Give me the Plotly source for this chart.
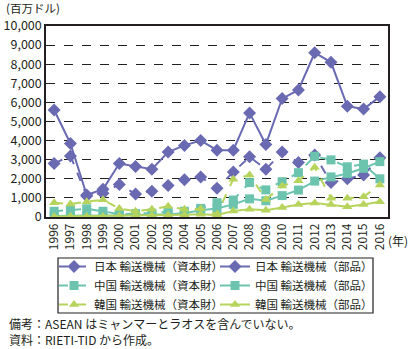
import plotly.graph_objects as go

years = list(range(1996, 2017))
year_labels = [str(y) for y in years]

japan_capital = [2800, 3200, 1100, 1250, 1700, 1200, 1350, 1650, 1950, 2100, 1500,
                 2350, 3150, 2500, 3400, 2850, 3250, 1800, 2000, 2200, 3100]
japan_parts = [5600, 3850, 1150, 1450, 2800, 2650, 2500, 3400, 3750, 4000, 3500,
               3500, 5450, 3800, 6200, 6650, 8600, 8100, 5800, 5650, 6300]
china_capital = [300, 370, 430, 300, 150, 180, 200, 280, 300, 450, 750,
                 890, 1800, 1420, 1850, 2320, 3180, 2990, 2630, 2770, 2000]
china_parts = [50, 80, 80, 60, 80, 100, 120, 150, 200, 350, 450,
               660, 950, 850, 1120, 1410, 1880, 2100, 2280, 2550, 2900]
korea_capital = [740, 680, 800, 900, 450, 300, 400, 560, 400, 430, 150,
                 1980, 2200, 920, 1620, 1900, 2600, 980, 980, 1060, 1680]
korea_parts = [30, 40, 30, 30, 50, 60, 80, 100, 120, 150, 100,
               310, 400, 350, 500, 650, 730, 650, 540, 650, 800]

series_names = [
    "日本 輸送機械（資本財）", "日本 輸送機械（部品）",
    "中国 輸送機械（資本財）", "中国 輸送機械（部品）",
    "韓国 輸送機械（資本財）", "韓国 輸送機械（部品）",
]
y_ticks = list(range(0, 10001, 1000))

FONT = "Noto Sans CJK JP"
C_JP = "#6a6ab3"
C_CN = "#6cc4ae"
C_KR = "#b6d45c"
INK = "#231f20"

specs = [
    (japan_capital, C_JP, "dash", "diamond", 10, "legend"),
    (japan_parts, C_JP, "solid", "diamond", 10, "legend2"),
    (china_capital, C_CN, "dash", "square", 9, "legend"),
    (china_parts, C_CN, "solid", "square", 9, "legend2"),
    (korea_capital, C_KR, "dash", "triangle-up", 9, "legend"),
    (korea_parts, C_KR, "solid", "triangle-up", 9, "legend2"),
]

fig = go.Figure()
for name, (vals, col, dash, sym, size, lg) in zip(series_names, specs):
    fig.add_trace(go.Scatter(
        x=years, y=vals, name=name, mode="lines+markers",
        line=dict(color=col, width=2, dash=dash),
        marker=dict(symbol=sym, size=size, color=col),
        legend=lg,
    ))

# plot area: x 46..388, y 26..217 (px)
def px_x(p):
    return (p - 46) / 342.0

def px_y(p):
    return (217 - p) / 191.0

leg_common = dict(orientation="v", yanchor="top", xanchor="left",
                  itemwidth=30, borderwidth=0, bgcolor="rgba(0,0,0,0)",
                  font=dict(size=11.5, color=INK), tracegroupgap=0)

fig.update_layout(
    width=414, height=349,
    margin=dict(l=46, r=26, t=26, b=132, autoexpand=False),
    paper_bgcolor="white", plot_bgcolor="white",
    font=dict(family=FONT, size=12, color=INK),
    showlegend=True,
    legend=dict(x=px_x(54), y=px_y(252), **leg_common),
    legend2=dict(x=px_x(215), y=px_y(252), **leg_common),
    xaxis=dict(
        range=[1995.5, 2016.5], tickmode="array", tickvals=years,
        ticktext=year_labels, tickangle=-90, showgrid=False,
        showline=True, linecolor=INK, linewidth=1.5, mirror=True,
        ticks="", tickfont=dict(size=12), zeroline=False,
    ),
    yaxis=dict(
        range=[0, 10000], tickmode="array", tickvals=y_ticks,
        tickformat=",", showgrid=True, gridcolor=INK, gridwidth=1,
        griddash="dash", showline=True, linecolor=INK, linewidth=1.5,
        mirror=True, ticks="", tickfont=dict(size=12.5), zeroline=False,
    ),
    shapes=[
        dict(type="rect", xref="paper", yref="paper",
             x0=px_x(58), x1=px_x(373), y0=px_y(313), y1=px_y(258),
             line=dict(color=INK, width=1.2), fillcolor="rgba(0,0,0,0)"),
    ],
    annotations=[
        dict(text="(百万ドル)", xref="paper", yref="paper", x=px_x(4), y=px_y(8),
             xanchor="left", yanchor="middle", showarrow=False, font=dict(size=11.5)),
        dict(text="(年)", xref="paper", yref="paper", x=px_x(386), y=px_y(241),
             xanchor="left", yanchor="middle", showarrow=False, font=dict(size=12)),
        dict(text="備考：ASEAN はミャンマーとラオスを含んでいない。", xref="paper", yref="paper",
             x=px_x(7), y=px_y(323), xanchor="left", yanchor="middle", showarrow=False,
             font=dict(size=12)),
        dict(text="資料：RIETI-TID から作成。", xref="paper", yref="paper",
             x=px_x(7), y=px_y(339), xanchor="left", yanchor="middle", showarrow=False,
             font=dict(size=12)),
    ],
)

fig.write_html("out.html")
